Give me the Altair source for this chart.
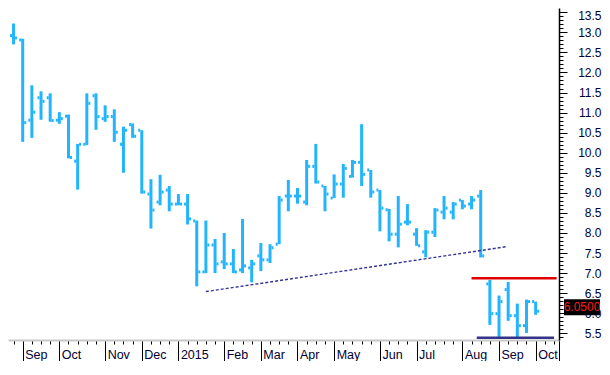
import altair as alt
import pandas as pd

# ---------------- data (weekly OHLC, Fridays) ----------------
week_dates = [d.strftime("%Y-%m-%d") for d in pd.date_range("2014-08-22", periods=59, freq="7D")]
opens = [13.02, 12.92, 12.81, 10.81, 11.37, 11.37, 10.81, 10.91, 9.79, 10.21,
         11.42, 10.85, 10.90, 10.21, 10.70, 10.56, 8.97, 8.77, 9.07, 8.72,
         8.72, 8.30, 7.03, 7.70, 7.28, 7.23, 7.08, 7.13, 7.43, 7.33,
         7.72, 8.92, 8.92, 8.77, 9.66, 9.17, 8.87, 9.22, 9.41, 9.76,
         9.57, 9.07, 8.58, 7.97, 8.27, 7.97, 7.53, 8.02, 8.52, 8.52,
         8.82, 8.72, 8.92, 6.73, 5.99, 6.59, 5.94, 5.69, 6.29]
highs = [13.80, 13.22, 12.84, 11.68, 11.53, 11.48, 11.01, 10.95, 10.22, 11.48,
         11.48, 11.18, 11.08, 10.65, 10.73, 10.56, 9.34, 9.45, 9.17, 8.97,
         8.97, 8.31, 8.31, 7.85, 8.00, 7.60, 8.35, 7.33, 7.75, 7.72,
         8.92, 9.32, 9.12, 9.82, 10.22, 9.17, 9.46, 9.72, 9.82, 10.71,
         9.57, 9.07, 8.60, 8.92, 8.72, 8.12, 8.07, 8.62, 8.92, 8.77,
         8.82, 8.92, 9.07, 6.83, 6.44, 6.78, 6.24, 6.34, 6.29]
lows = [12.25, 12.70, 10.27, 10.37, 10.82, 10.77, 10.72, 9.86, 9.08, 10.19,
        10.57, 10.77, 10.27, 9.50, 10.37, 8.98, 8.11, 8.69, 8.54, 8.69,
        8.21, 6.67, 7.00, 7.00, 7.10, 7.00, 7.00, 6.77, 7.05, 7.25,
        7.72, 8.54, 8.73, 8.69, 9.23, 8.54, 8.87, 8.88, 9.38, 9.17,
        8.88, 8.04, 7.79, 7.64, 8.19, 7.68, 7.39, 7.90, 8.34, 8.34,
        8.59, 8.59, 7.39, 5.71, 5.41, 5.81, 5.41, 5.51, 5.96]
closes = [12.74, 12.86, 10.75, 11.01, 11.28, 10.80, 10.85, 9.88, 10.21, 11.23,
          10.90, 10.90, 10.51, 10.56, 10.41, 9.02, 8.57, 9.02, 8.72, 8.72,
          8.35, 7.03, 7.70, 7.23, 7.23, 7.03, 7.18, 7.23, 7.33, 7.63,
          8.82, 8.92, 8.92, 9.66, 9.27, 8.97, 9.22, 9.61, 9.76, 9.46,
          9.02, 8.62, 7.97, 8.22, 8.27, 7.68, 8.02, 8.57, 8.62, 8.72,
          8.67, 8.82, 7.43, 5.99, 6.29, 5.94, 5.69, 6.29, 6.05]
last_price = 6.05

trend_dates = ["2015-01-23", "2015-09-10"]
trend_values = [6.54, 7.66]
resistance = {"start": "2015-08-14", "end": "2015-10-18", "level": 6.87}
support = {"start": "2015-08-18", "end": "2015-10-16", "level": 5.39}

y_ticks = [round(5.4 + 0.1 * i, 1) for i in range(82)]

# ---------------- scales ----------------
day_ms = 86400000
ref = pd.Timestamp("2014-09-05", tz="UTC").value // 10**6
x_domain = [ref - 11.234 * day_ms, ref + 409.84 * day_ms]
x_ticks = [pd.Timestamp(d, tz="UTC").value // 10**6 for d in week_dates] + \
          [pd.Timestamp(d, tz="UTC").value // 10**6 for d in ["2015-10-09", "2015-10-16"]] + [x_domain[1]]
y_domain = [5.333, 13.606]

BAR = "#22b5fd"
FONT = "Liberation Sans"
W, H = 551, 332

df = pd.DataFrame({"date": week_dates, "open": opens, "high": highs, "low": lows, "close": closes})

xs = alt.Scale(type="utc", domain=x_domain)
ys = alt.Scale(domain=y_domain, zero=False, nice=False)

x_axis = alt.Axis(
    values=x_ticks, tickCount=1000,
    labelExpr="(utcdate(datum.value) <= 7 && utcday(datum.value) == 5) ? (utcmonth(datum.value) == 0 ? utcFormat(datum.value, '%Y') : utcFormat(datum.value, '%b')) : ''",
    tickSize={"condition": {"test": "utcdate(datum.value) <= 7 || utcday(datum.value) != 5", "value": 22}, "value": 4},
    tickColor="black", tickWidth=1,
    domainColor="#c8c8c8", domainWidth=2,
    labelAlign="left", labelBaseline="top", labelPadding=-14, labelOffset=2,
    labelFontSize=12.5, labelFont=FONT, labelColor="#000033",
    labelOverlap=False, labelFlush=False, labelBound=False,
    grid=False, title=None,
)
y_axis = alt.Axis(
    orient="right", values=y_ticks, tickCount=1000,
    labelExpr="abs(datum.value*2 - round(datum.value*2)) < 0.01 ? format(datum.value, '.1f') : ''",
    tickSize={"condition": {"test": "abs(datum.value*2 - round(datum.value*2)) < 0.01", "value": 8}, "value": 4},
    labelOffset={"condition": {"test": "datum.value > 13.45", "value": 3}, "value": 0},
    tickColor="black", tickWidth=1,
    domainColor="black", domainWidth=1.5,
    labelAlign="right", labelBaseline="middle", labelPadding=34,
    labelFontSize=12, labelFont=FONT, labelColor="#000033",
    labelOverlap=False, labelFlush=False, labelBound=False,
    grid=False, title=None,
)

base = alt.Chart(df)
hl = base.mark_rule(color=BAR, strokeWidth=3).encode(
    x=alt.X("date:T", scale=xs, axis=x_axis),
    y=alt.Y("low:Q", scale=ys, axis=y_axis),
    y2="high:Q",
)
op = base.mark_rule(color=BAR, strokeWidth=3, xOffset=-3.5, x2Offset=-1.5).encode(
    x=alt.X("date:T", scale=xs, title=None), x2="date:T",
    y=alt.Y("open:Q", scale=ys, title=None),
)
cl = base.mark_rule(color=BAR, strokeWidth=3, xOffset=1.5, x2Offset=3.5).encode(
    x=alt.X("date:T", scale=xs, title=None), x2="date:T",
    y=alt.Y("close:Q", scale=ys, title=None),
)

trend = alt.Chart(pd.DataFrame({"date": trend_dates, "v": trend_values})).mark_line(
    color="#333399", strokeWidth=1.4, strokeDash=[3, 2]
).encode(x=alt.X("date:T", scale=xs, title=None), y=alt.Y("v:Q", scale=ys, title=None))

res = alt.Chart(pd.DataFrame([resistance])).mark_rule(color="#e00000", strokeWidth=2.5).encode(
    x=alt.X("start:T", scale=xs, title=None), x2="end:T", y=alt.Y("level:Q", scale=ys, title=None))
sup = alt.Chart(pd.DataFrame([support])).mark_rule(color="#333388", strokeWidth=2.5).encode(
    x=alt.X("start:T", scale=xs, title=None), x2="end:T", y=alt.Y("level:Q", scale=ys, title=None))

box = alt.Chart(pd.DataFrame({"p": [last_price]})).mark_rect(color="black", yOffset=-12, y2Offset=4).encode(
    x=alt.value(W + 5), x2=alt.value(W + 41),
    y=alt.Y("p:Q", scale=ys, title=None), y2="p:Q",
)
label = alt.Chart(pd.DataFrame({"p": [last_price], "t": [f"{last_price:.4f}"]})).mark_text(
    color="#ff1a1a", fontSize=12, font=FONT, align="center", baseline="middle", dy=-4
).encode(x=alt.value(W + 23), y=alt.Y("p:Q", scale=ys, title=None), text="t:N")

chart = alt.layer(hl, op, cl, trend, res, sup, box, label).properties(
    width=W, height=H,
    autosize=alt.AutoSizeParams(type="none"),
    padding={"left": 0, "top": 0, "right": 43, "bottom": 21},
    background="white",
).configure_view(stroke=None)

chart.save("out.html", embed_options={"renderer": "svg", "actions": False})
